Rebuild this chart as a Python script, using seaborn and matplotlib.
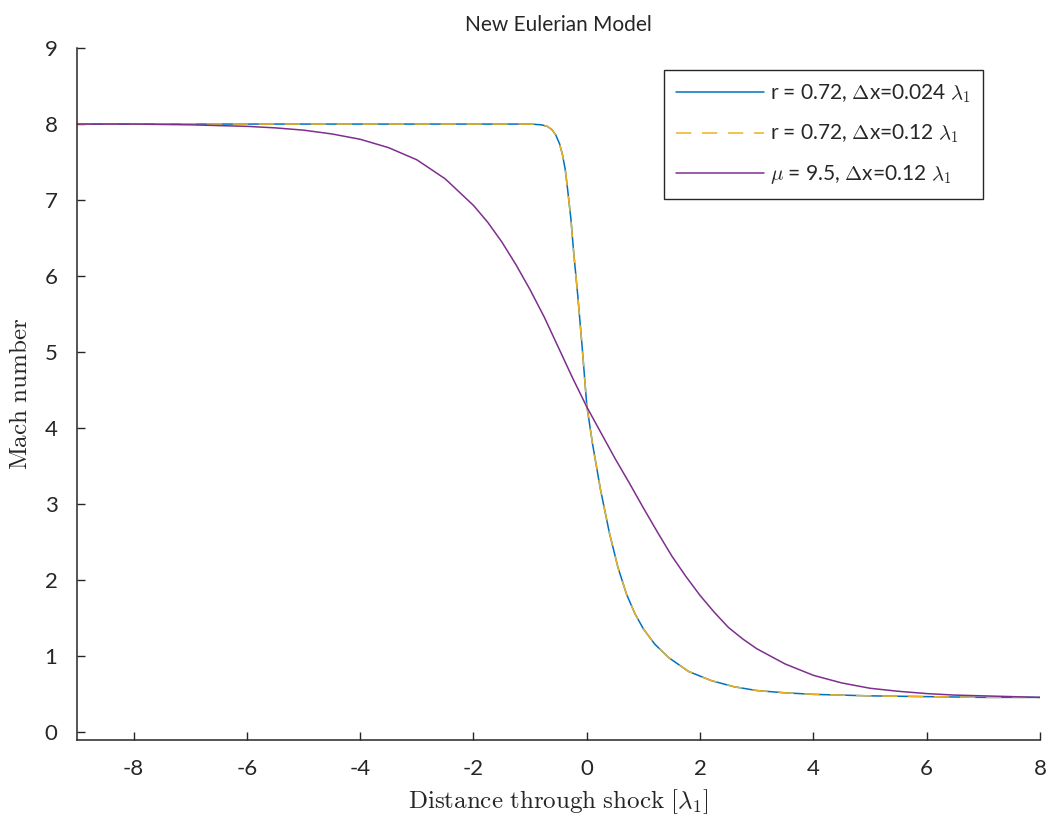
import numpy as np
import pandas as pd
import matplotlib
matplotlib.use('Agg')
import matplotlib.pyplot as plt
import seaborn as sns

# Mach number through the shock
x_fine = [-9.0, -8.0, -7.0, -6.0, -5.0, -4.0, -3.0, -2.0, -1.5, -1.2, -1.0, -0.9, -0.8,
          -0.7, -0.62, -0.55, -0.48, -0.43, -0.38, -0.34, -0.28, -0.23, -0.16, -0.08,
          0.0, 0.1, 0.24, 0.4, 0.55, 0.7, 0.85, 1.0, 1.2, 1.45, 1.8, 2.2, 2.6, 3.0,
          3.5, 4.0, 5.0, 6.0, 7.0, 8.0]
mach_fine = [8.0, 8.0, 8.0, 8.0, 8.0, 8.0, 8.0, 8.0, 8.0, 8.0, 8.0, 7.995, 7.99,
             7.97, 7.93, 7.86, 7.74, 7.6, 7.4, 7.15, 6.75, 6.3, 5.75, 5.05,
             4.3, 3.8, 3.2, 2.62, 2.17, 1.82, 1.56, 1.36, 1.16, 0.98, 0.8, 0.68, 0.6, 0.55,
             0.52, 0.5, 0.48, 0.47, 0.46, 0.46]

x_coarse = [-9.0, -8.0, -7.0, -6.0, -5.0, -4.0, -3.0, -2.0, -1.5, -1.2, -1.0, -0.9, -0.8,
            -0.7, -0.62, -0.55, -0.48, -0.43, -0.38, -0.34, -0.28, -0.23, -0.16, -0.08,
            0.0, 0.1, 0.24, 0.4, 0.55, 0.7, 0.85, 1.0, 1.2, 1.45, 1.8, 2.2, 2.6, 3.0,
            3.5, 4.0, 5.0, 6.0, 7.0, 8.0]
mach_coarse = [8.0, 8.0, 8.0, 8.0, 8.0, 8.0, 8.0, 8.0, 8.0, 8.0, 8.0, 7.995, 7.99,
               7.97, 7.93, 7.86, 7.73, 7.6, 7.4, 7.15, 6.74, 6.3, 5.75, 5.05,
               4.3, 3.8, 3.2, 2.62, 2.17, 1.82, 1.56, 1.36, 1.16, 0.98, 0.8, 0.68, 0.6, 0.55,
               0.52, 0.5, 0.48, 0.47, 0.46, 0.46]

x_mu = [-9.0, -8.0, -7.0, -6.0, -5.5, -5.0, -4.5, -4.0, -3.5, -3.0, -2.5, -2.0, -1.75,
        -1.5, -1.25, -1.0, -0.75, -0.5, -0.25, 0.0, 0.25, 0.5, 0.75, 1.0, 1.25, 1.5,
        1.75, 2.0, 2.25, 2.5, 2.75, 3.0, 3.5, 4.0, 4.5, 5.0, 5.5, 6.0, 6.5, 7.0, 8.0]
mach_mu = [8.0, 8.0, 7.99, 7.97, 7.95, 7.92, 7.87, 7.8, 7.69, 7.53, 7.28, 6.93, 6.71,
           6.45, 6.15, 5.82, 5.46, 5.06, 4.66, 4.28, 3.94, 3.6, 3.28, 2.95, 2.63, 2.32,
           2.05, 1.8, 1.58, 1.38, 1.23, 1.1, 0.9, 0.75, 0.65, 0.58, 0.54, 0.51, 0.49, 0.48, 0.46]

labels = [r'r = 0.72, $\Delta$x=0.024 $\lambda_1$',
          r'r = 0.72, $\Delta$x=0.12 $\lambda_1$',
          r'$\mu$ = 9.5, $\Delta$x=0.12 $\lambda_1$']
colors = ['#0072BD', '#EDB120', '#7E2F8E']

sns.set_theme(style='ticks')
plt.rcParams['font.family'] = ['Lato', 'DejaVu Sans']
plt.rcParams['mathtext.fontset'] = 'cm'
plt.rcParams['axes.unicode_minus'] = False

fig = plt.figure(figsize=(10.47, 8.21), dpi=100)
ax = fig.add_axes([0.0735, 0.0987, 0.9198, 0.8428])

sns.lineplot(x=x_fine, y=mach_fine, ax=ax, color=colors[0], lw=1.1, label=labels[0],
             estimator=None)
sns.lineplot(x=x_coarse, y=mach_coarse, ax=ax, color=colors[1], lw=1.1, label=labels[1],
             estimator=None, linestyle=(0, (10, 7)))
sns.lineplot(x=x_mu, y=mach_mu, ax=ax, color=colors[2], lw=1.1, label=labels[2],
             estimator=None)

ax.set_xlim(-9, 8)
ax.set_ylim(-0.1, 9)
ax.set_xticks(range(-8, 9, 2))
ax.set_yticks(range(0, 10))
ax.tick_params(direction='in', length=6, width=1, labelsize=16, colors='#262626')
ax.tick_params(axis='x', pad=14)
ax.tick_params(axis='y', pad=14)
for s in ['left', 'bottom']:
    ax.spines[s].set_color('#262626')
    ax.spines[s].set_linewidth(1.1)
sns.despine(ax=ax)

ax.set_title('New Eulerian Model', fontsize=15, color='#262626', pad=12)
ax.set_xlabel(r'$\mathrm{Distance\ through\ shock\ [\lambda_1]}$', fontsize=18,
              color='#262626', labelpad=6)
ax.set_ylabel(r'$\mathrm{Mach\ number}$', fontsize=18, color='#262626', labelpad=10)

leg = ax.legend(loc='upper right', bbox_to_anchor=(0.941, 0.968), borderaxespad=0,
                fontsize=15, frameon=True, fancybox=False, framealpha=1,
                edgecolor='#262626', handlelength=4.2, handletextpad=0.3,
                borderpad=0.6, labelspacing=0.85)
leg.get_frame().set_linewidth(1.0)

fig.savefig('out.png', dpi=100)
